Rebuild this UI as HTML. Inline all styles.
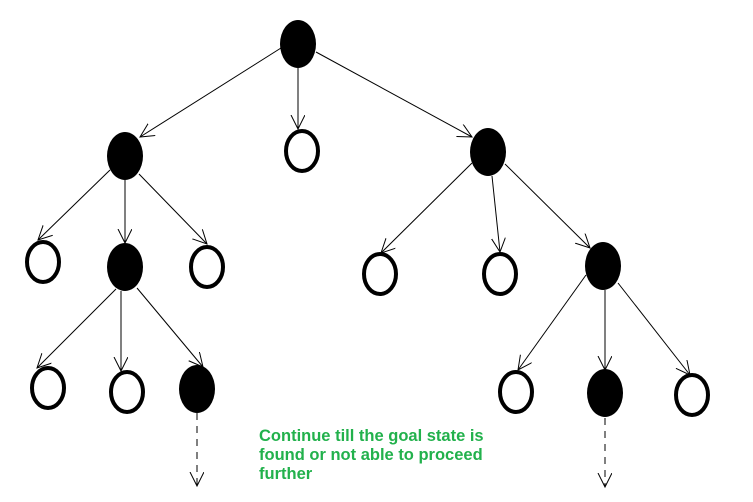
<!DOCTYPE html>
<html><head><style>body{margin:0;background:#fff}svg{display:block}</style></head><body>
<svg width="753" height="502" viewBox="0 0 753 502" xmlns="http://www.w3.org/2000/svg">
<defs><marker id="a" markerWidth="16" markerHeight="16" refX="14" refY="7" orient="auto" markerUnits="userSpaceOnUse"><path d="M0,0 L14,7 L0,14" fill="none" stroke="#000" stroke-width="1"/></marker></defs>
<g stroke="#000" stroke-width="1" fill="none" marker-end="url(#a)">
<line x1="281" y1="48" x2="140" y2="137"/>
<line x1="298" y1="68" x2="298" y2="129"/>
<line x1="316" y1="52" x2="472" y2="137"/>
<line x1="110" y1="170" x2="38" y2="240"/>
<line x1="125" y1="180" x2="125" y2="243"/>
<line x1="139" y1="174" x2="207" y2="244"/>
<line x1="472" y1="163" x2="381" y2="253"/>
<line x1="492" y1="176" x2="500" y2="252"/>
<line x1="505" y1="164" x2="590" y2="248"/>
<line x1="116" y1="289" x2="37" y2="368"/>
<line x1="121" y1="291" x2="121" y2="371"/>
<line x1="137" y1="288" x2="203" y2="367"/>
<line x1="586" y1="275" x2="518" y2="370"/>
<line x1="605" y1="290" x2="605" y2="370"/>
<line x1="618" y1="283" x2="690" y2="375"/>
<line x1="197" y1="413" x2="197" y2="486" stroke-dasharray="7,6"/>
<line x1="605" y1="418" x2="605" y2="487" stroke-dasharray="7,6"/>
</g>
<g fill="#000">
<ellipse cx="298" cy="44" rx="18" ry="24"/>
<ellipse cx="125" cy="156" rx="18" ry="24"/>
<ellipse cx="488" cy="152" rx="18" ry="24"/>
<ellipse cx="125" cy="267" rx="18" ry="24"/>
<ellipse cx="603" cy="266" rx="18" ry="24"/>
<ellipse cx="197" cy="389" rx="18" ry="24"/>
<ellipse cx="605" cy="393" rx="18" ry="24"/>
</g>
<g fill="#fff" stroke="#000" stroke-width="4">
<ellipse cx="302" cy="151" rx="16" ry="20"/>
<ellipse cx="43" cy="262" rx="16" ry="20"/>
<ellipse cx="207" cy="267" rx="16" ry="20"/>
<ellipse cx="380" cy="274" rx="16" ry="20"/>
<ellipse cx="500" cy="274" rx="16" ry="20"/>
<ellipse cx="48" cy="388" rx="16" ry="20"/>
<ellipse cx="127" cy="392" rx="16" ry="20"/>
<ellipse cx="516" cy="392" rx="16" ry="20"/>
<ellipse cx="692" cy="395" rx="16" ry="20"/>
</g>
<g font-family="Liberation Sans, sans-serif" font-weight="bold" font-size="16.5" fill="#22b14c">
<text x="259" y="441">Continue till the goal state is</text>
<text x="259" y="460">found or not able to proceed</text>
<text x="259" y="479">further</text>
</g>
</svg>
</body></html>
